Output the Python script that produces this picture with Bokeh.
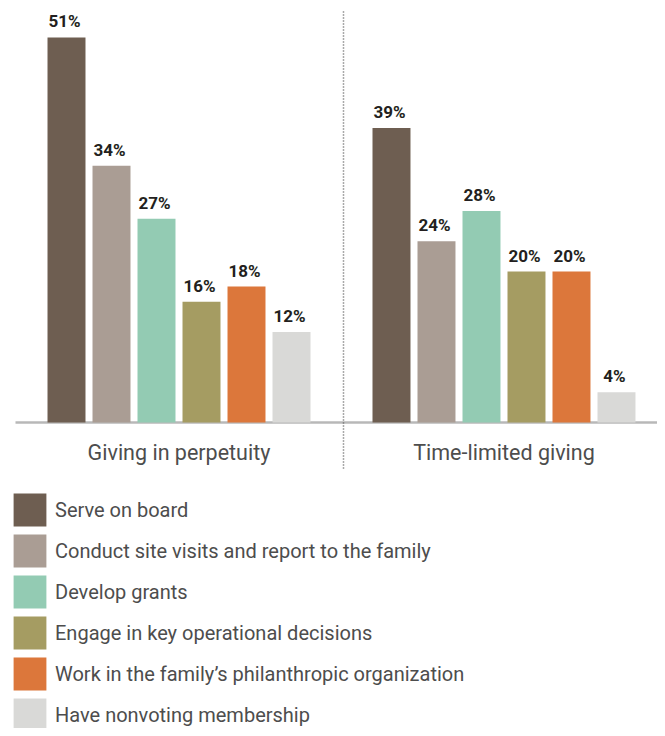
from bokeh.plotting import figure
from bokeh.models import Range1d, ColumnDataSource, Legend, LegendItem
from bokeh.core.properties import value
from bokeh.embed import file_html
from bokeh.resources import INLINE

# ---- data ----
groups = ["Giving in perpetuity", "Time-limited giving"]
roles = [
    "Serve on board",
    "Conduct site visits and report to the family",
    "Develop grants",
    "Engage in key operational decisions",
    "Work in the family\u2019s philanthropic organization",
    "Have nonvoting membership",
]
perpetuity = [51, 34, 27, 16, 18, 12]
time_limited = [39, 24, 28, 20, 20, 4]
colors = ["#6e5e51", "#aa9d94", "#93cbb3", "#a59c62", "#dc773b", "#d9d9d7"]

# ---- layout constants ----
W, H = 657, 728
PX_PER_UNIT = 45.0       # horizontal slot pitch
PX_PER_PCT = 7.55        # vertical scale
BASE_FROM_TOP = 422      # baseline position in figure px from top
FIRST_X_PX = 66          # first bar center px
GROUP_GAP = 2.222        # extra slots between groups
BAR_W = 0.844
FONT = "Roboto"

x0 = -FIRST_X_PX / PX_PER_UNIT
x1 = x0 + W / PX_PER_UNIT
y1 = BASE_FROM_TOP / PX_PER_PCT
y0 = -(H - BASE_FROM_TOP) / PX_PER_PCT

n = len(roles)
group_start = [0.0, n + GROUP_GAP - 1]
group_center = [g + (n - 1) / 2 for g in group_start]
sep_x = (group_start[0] + n - 1 + group_start[1]) / 2 + 2 / PX_PER_UNIT

p = figure(width=W, height=H, x_range=Range1d(x0, x1), y_range=Range1d(y0, y1),
           output_backend="svg", toolbar_location=None, min_border=0,
           outline_line_color=None)
p.axis.visible = False
p.grid.visible = False
p.background_fill_color = "white"
p.border_fill_color = "white"

# baseline
p.segment(x0=[x0 + 15 / PX_PER_UNIT], x1=[x1], y0=[0], y1=[0],
          line_color="#b8b8b8", line_width=2.5)

# separator
p.segment(x0=[sep_x], x1=[sep_x], y0=[-46 / PX_PER_PCT], y1=[412 / PX_PER_PCT],
          line_color="#555555", line_width=1.5, line_dash="1 2")

items = []
for i, role in enumerate(roles):
    vals = [perpetuity[i], time_limited[i]]
    xs = [group_start[0] + i, group_start[1] + i]
    src = ColumnDataSource(dict(x=xs, top=vals, lab=[f"{v}%" for v in vals]))
    r = p.vbar(x="x", top="top", bottom=0, width=BAR_W, source=src,
               fill_color=colors[i], line_color=None)
    p.text(x="x", y="top", text="lab", source=src, text_align="center",
           text_baseline="alphabetic", y_offset=-16, x_offset=-2,
           text_font=value("Roboto"), text_font_style="bold",
           text_font_size="17px", text_color="#231f20")
    items.append(LegendItem(label=role, renderers=[r]))

# group labels
p.text(x=group_center, y=[-30 / PX_PER_PCT] * 2, text=groups,
       text_align="center", text_baseline="alphabetic",
       text_font=value(FONT), text_font_size="21.5px",
       text_color="#4d4d4d")

legend = Legend(items=items, location=(9, -7), orientation="vertical",
                glyph_width=41, glyph_height=41, spacing=0, label_standoff=5,
                padding=0, margin=0, border_line_color=None,
                background_fill_alpha=0,
                label_text_font=FONT,
                label_text_font_size="20px", label_text_color="#4d4d4d")
p.add_layout(legend, "center")

open("out.html", "w").write(file_html(p, INLINE))
